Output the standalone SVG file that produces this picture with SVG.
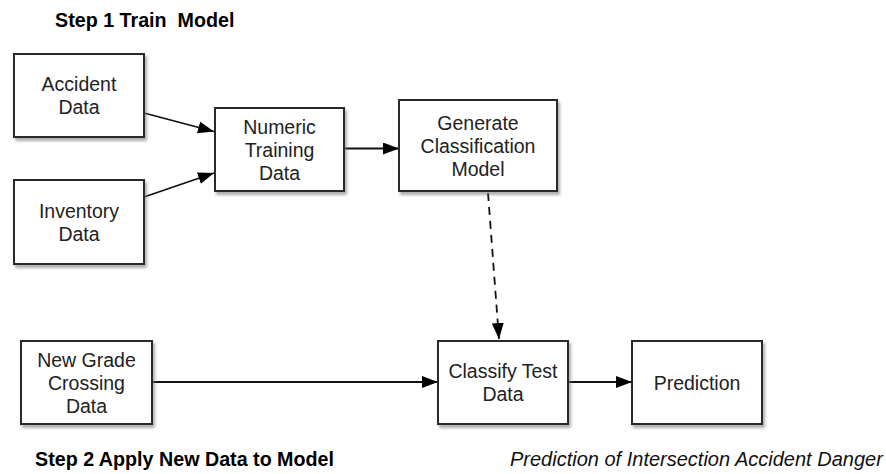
<svg xmlns="http://www.w3.org/2000/svg" width="886" height="474" viewBox="0 0 886 474">
<style>
.box{fill:#fff;stroke:#2b2b2b;stroke-width:2;filter:url(#sh)}
.lbl{font-family:"Liberation Sans",Arial,sans-serif;font-size:19.5px;fill:#222;text-anchor:middle}
.hdr{font-family:"Liberation Sans",Arial,sans-serif;font-size:19.7px;font-weight:bold;fill:#000;white-space:pre}
.cap{font-family:"Liberation Sans",Arial,sans-serif;font-size:20px;font-style:italic;fill:#111}
.con{stroke:#111;stroke-width:1.8;fill:none;marker-end:url(#ah)}
.dash{stroke-dasharray:8,6}
</style>
<defs>
<filter id="sh" x="-10%" y="-10%" width="130%" height="130%">
<feDropShadow dx="2" dy="3" stdDeviation="1.8" flood-color="#777" flood-opacity="0.6"/>
</filter>
<marker id="ah" markerUnits="userSpaceOnUse" markerWidth="17" markerHeight="13" refX="16" refY="6" orient="auto">
<path d="M0,0 L16,6 L0,12 z" fill="#000"/>
</marker>
</defs>
<rect width="886" height="474" fill="#fff"/>
<text class="hdr" x="55" y="27">Step 1 Train  Model</text>
<text class="hdr" x="35" y="466">Step 2 Apply New Data to Model</text>
<text class="cap" x="510" y="466">Prediction of Intersection Accident Danger</text>

<g id="connectors">
<line class="con" x1="144" y1="113" x2="214" y2="131.5"/>
<line class="con" x1="144" y1="197" x2="214" y2="173"/>
<line class="con" x1="344" y1="148.5" x2="399" y2="148.5"/>
<line class="con dash" x1="488" y1="193" x2="499" y2="339"/>
<line class="con" x1="152" y1="382" x2="438" y2="382"/>
<line class="con" x1="568" y1="382" x2="632" y2="382"/>
</g>

<g id="accident">
<rect class="box" x="14" y="54" width="130" height="83"/>
<text class="lbl" x="79" y="91">Accident</text>
<text class="lbl" x="79" y="114">Data</text>
</g>
<g id="inventory">
<rect class="box" x="14" y="180" width="130" height="84"/>
<text class="lbl" x="79" y="217.5">Inventory</text>
<text class="lbl" x="79" y="240.5">Data</text>
</g>
<g id="numeric">
<rect class="box" x="215" y="108" width="129" height="83"/>
<text class="lbl" x="279.5" y="133.5">Numeric</text>
<text class="lbl" x="279.5" y="156.5">Training</text>
<text class="lbl" x="279.5" y="179.5">Data</text>
</g>
<g id="generate">
<rect class="box" x="399" y="100" width="158" height="91"/>
<text class="lbl" x="478" y="129.5">Generate</text>
<text class="lbl" x="478" y="152.5">Classification</text>
<text class="lbl" x="478" y="175.5">Model</text>
</g>
<g id="newgrade">
<rect class="box" x="21" y="341" width="131" height="83"/>
<text class="lbl" x="86.5" y="366.5">New Grade</text>
<text class="lbl" x="86.5" y="389.5">Crossing</text>
<text class="lbl" x="86.5" y="412.5">Data</text>
</g>
<g id="classify">
<rect class="box" x="438" y="341" width="130" height="83"/>
<text class="lbl" x="503" y="378">Classify Test</text>
<text class="lbl" x="503" y="401">Data</text>
</g>
<g id="prediction">
<rect class="box" x="632" y="341" width="130" height="83"/>
<text class="lbl" x="697" y="389.5">Prediction</text>
</g>
</svg>
